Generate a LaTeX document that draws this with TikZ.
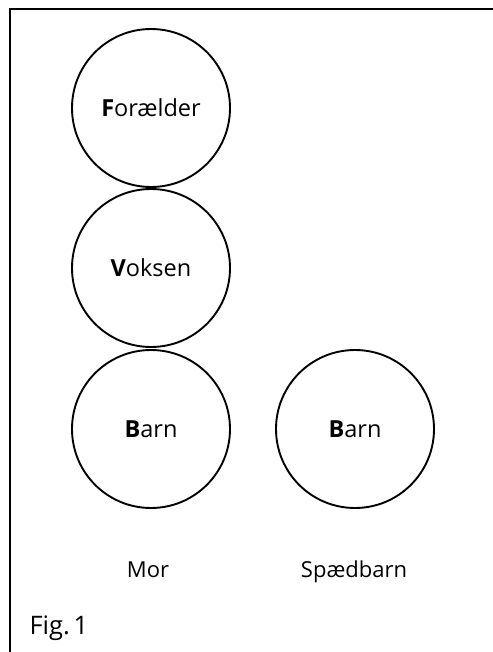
\documentclass[tikz,border=0pt]{standalone}
\usepackage{fontspec}
\setmainfont{Open Sans}
\begin{document}
\begin{tikzpicture}[x=1pt,y=-1pt,
  circ/.style={draw,line width=1.9pt,circle,minimum size=158pt,inner sep=0pt,font=\fontsize{23.5}{26}\selectfont},
  lbl/.style={font=\fontsize{22}{26}\selectfont},
  frame/.style={line width=2.2pt}]
\useasboundingbox (0,0) rectangle (492,652);
\draw[frame] (10,660) -- (10,9) -- (500,9);
\node[circ] (f) at (151,108) {\textbf{F}orælder};
\node[circ] (v) at (151,268) {\textbf{V}oksen};
\node[circ] (b1) at (151,429) {\textbf{B}arn};
\node[circ] (b2) at (355,429) {\textbf{B}arn};
\node[lbl,anchor=base] (mor) at (148,577) {Mor};
\node[lbl,anchor=base] (sp) at (354,577) {Spædbarn};
\node[lbl,font=\fontsize{25.5}{28}\selectfont,anchor=base west] (fig) at (26,634) {Fig.\hspace{0.15em}1};
\end{tikzpicture}
\end{document}
